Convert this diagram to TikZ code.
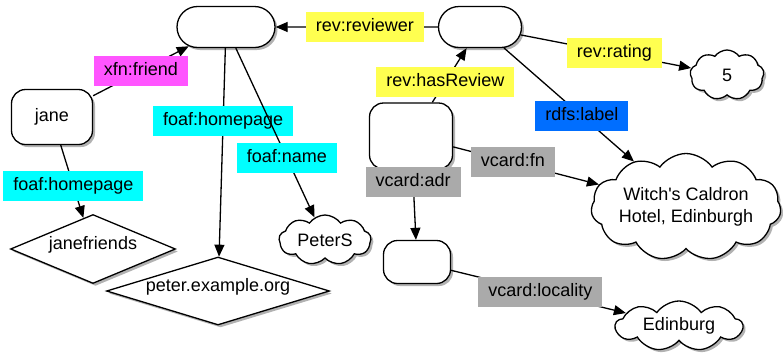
\documentclass[tikz,border=0pt]{standalone}
\usepackage{fontspec}
\setmainfont{Liberation Sans}
\usetikzlibrary{shapes.misc,shapes.geometric,shapes.symbols,shadows,arrows.meta}
\definecolor{lblyellow}{RGB}{255,255,80}
\definecolor{lblmagenta}{RGB}{255,85,255}
\definecolor{lblcyan}{RGB}{0,255,255}
\definecolor{lblblue}{RGB}{0,110,255}
\definecolor{lblgray}{RGB}{170,170,170}
\tikzset{
  every node/.style={font=\fontsize{18}{22}\selectfont},
  shad/.style={drop shadow={shadow xshift=2.5pt,shadow yshift=-2.5pt,opacity=0.3,fill=black}},
  pill/.style={rounded rectangle, draw, line width=1.3pt, fill=white, shad, inner sep=0pt},
  blob/.style={rectangle, rounded corners=14pt, draw, line width=1.3pt, fill=white, shad, inner sep=0pt},
  lit/.style={cloud, draw, line width=1.3pt, fill=white, shad, cloud puffs=9, cloud puff arc=110, cloud ignores aspect, inner sep=0pt},
  dia/.style={diamond, draw, line width=1.3pt, fill=white, shad, inner sep=0pt, text height=10pt, text depth=10pt},
  lbl/.style={fill=#1, inner xsep=10pt, inner ysep=0pt, minimum height=30pt, text height=13pt, text depth=4pt},
  link/.style={draw, line width=1.3pt, -{Triangle[length=12pt,width=10pt]}},
}
\begin{document}
\begin{tikzpicture}[x=1pt,y=-1pt]
\useasboundingbox[fill=white] (0,0) rectangle (783,354);
% resource nodes
\node[pill, minimum width=98pt, minimum height=41pt] (A) at (226,27) {};
\node[pill, minimum width=83pt, minimum height=41pt] (R) at (480,27) {};
\node[blob, minimum width=81pt, minimum height=55pt] (jane) at (52,117) {jane};
\node[blob, minimum width=83pt, minimum height=66pt] (B) at (411,136) {};
\node[blob, minimum width=67pt, minimum height=43pt] (C) at (417,262) {};
% literals
\node[lit, minimum width=74pt, minimum height=50pt] (five) at (727,75) {5};
\node[lit, cloud puffs=11, minimum width=185pt, minimum height=107pt, align=center] (witch) at (686,207) {Witch\textquotesingle s Caldron\\Hotel, Edinburgh};
\node[lit, minimum width=92pt, minimum height=50pt] (peters) at (325,240) {PeterS};
\node[lit, minimum width=127pt, minimum height=50pt] (edin) at (679,326) {Edinburg};
% diamonds
\node[dia, shape aspect=2.39, minimum width=165pt, minimum height=69pt] (janef) at (93,249) {janefriends};
\node[dia, shape aspect=3.28, minimum width=223pt, minimum height=68pt] (peterorg) at (218,291) {peter.example.org};
% connectors with labels
\path[link] (R) -- node[lbl=lblyellow, pos=0.45] (l1) {rev:reviewer} (A);
\path[link] (jane) -- node[lbl=lblmagenta, pos=0.5] (l2) {xfn:friend} (A);
\path[link] (A) -- node[lbl=lblcyan, pos=0.35] (l3) {foaf:homepage} (peterorg);
\path[link] (A) -- node[lbl=lblcyan, pos=0.65] (l4) {foaf:name} (peters);
\path[link] (jane) -- node[lbl=lblcyan, pos=0.56] (l5) {foaf:homepage} (janef);
\path[link] (B) -- node[lbl=lblyellow, pos=0.38] (l6) {rev:hasReview} (R);
\path[link] (R) -- node[lbl=lblyellow, pos=0.55] (l7) {rev:rating} (five);
\path[link] (R) -- node[lbl=lblblue, pos=0.6] (l8) {rdfs:label} (witch);
\path[link] (B) -- node[lbl=lblgray, pos=0.41] (l9) {vcard:fn} (witch);
\path[link] (B) -- node[lbl=lblgray, pos=0.18] (l10) {vcard:adr} (C);
\path[link] (C) -- node[lbl=lblgray, pos=0.51] (l11) {vcard:locality} (edin);
\end{tikzpicture}
\end{document}
